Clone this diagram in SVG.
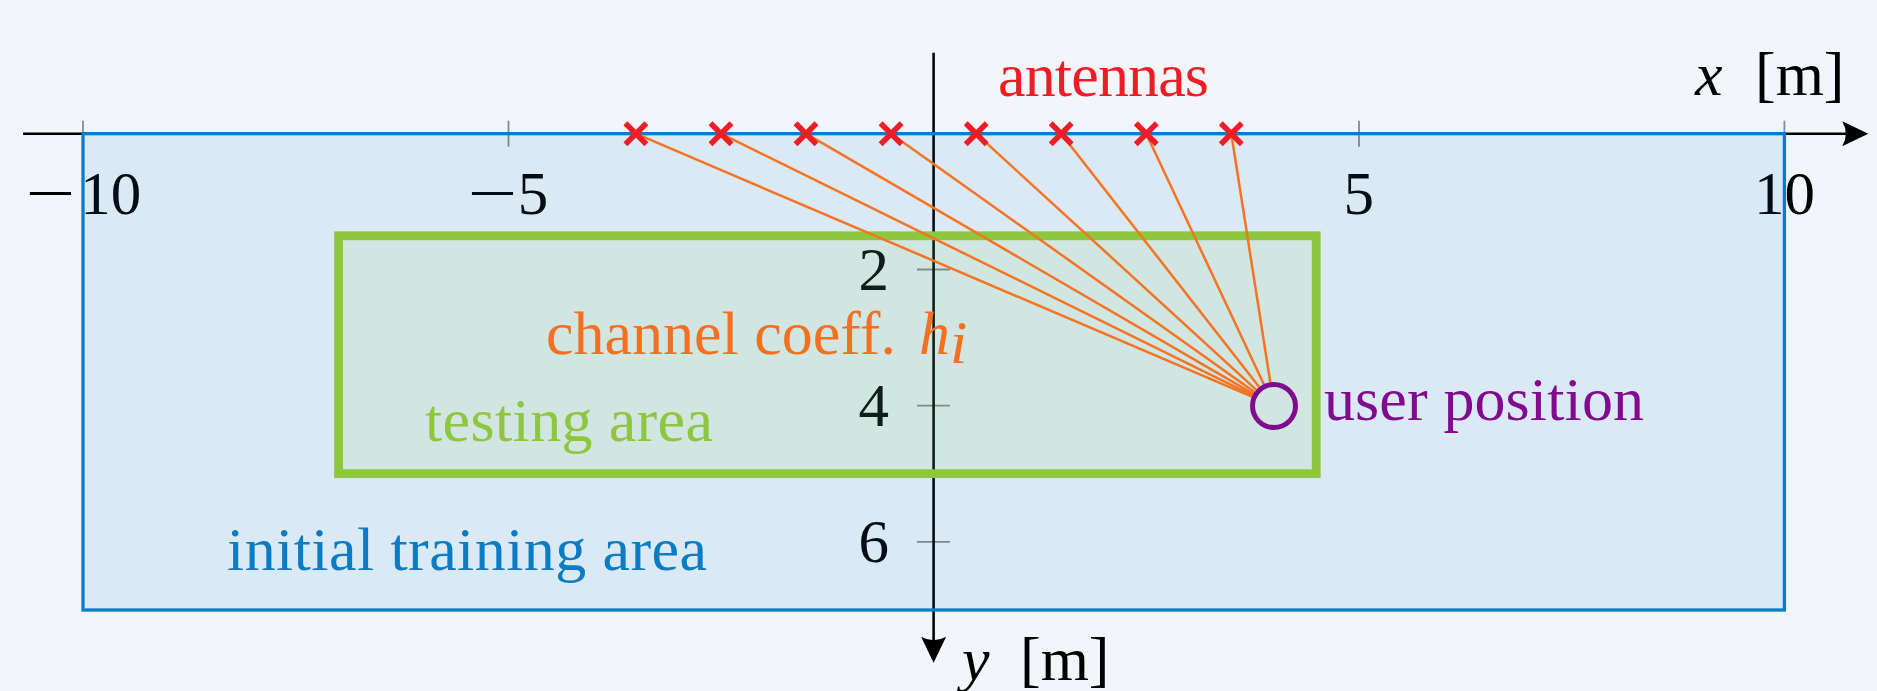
<svg xmlns="http://www.w3.org/2000/svg" width="1877" height="691" viewBox="0 0 1877 691">
  <style>
    .lbl { font-family: "Liberation Serif", "Times New Roman", serif; font-size: 62px; }
    .tick-lbl { font-family: "Liberation Serif", "Times New Roman", serif; font-size: 61px; fill: #000; }
    .it { font-style: italic; }
    .axis { stroke: #000; stroke-width: 2.6; fill: none; }
    .tick { stroke: #8a8a8a; stroke-width: 1.8; }
    .ray { stroke: #F47423; stroke-width: 2.5; fill: none; }
    .ant { stroke: #EE1D25; stroke-width: 5.5; fill: none; }
  </style>
  <defs>
    <marker id="arr" markerUnits="userSpaceOnUse" orient="auto" markerWidth="30" markerHeight="26" viewBox="0 0 30 26" refX="22" refY="12.5" overflow="visible">
      <path d="M26,12.5 L0,0 Q7,12.5 0,25 Z" fill="#000"/>
    </marker>
    <g id="cross">
      <path d="M-10.5,-10.5 L10.5,10.5 M-10.5,10.5 L10.5,-10.5"/>
    </g>
  </defs>

  <rect x="0" y="0" width="1877" height="691" fill="#F2F5FA"/>

  <g id="axes">
    <line class="tick" x1="83" y1="120.7" x2="83" y2="146.7"/>
    <line class="tick" x1="508.5" y1="120.7" x2="508.5" y2="146.7"/>
    <line class="tick" x1="1359" y1="120.7" x2="1359" y2="146.7"/>
    <line class="tick" x1="1784.4" y1="120.7" x2="1784.4" y2="146.7"/>
    <line class="tick" x1="917" y1="269.5" x2="950" y2="269.5"/>
    <line class="tick" x1="917" y1="405.7" x2="950" y2="405.7"/>
    <line class="tick" x1="917" y1="541.8" x2="950" y2="541.8"/>
    <path class="axis" d="M23,133.7 L1864.3,133.7" marker-end="url(#arr)"/>
    <path class="axis" d="M933.6,52.7 L933.6,658.7" marker-end="url(#arr)"/>
    <text class="tick-lbl" transform="translate(50.5,214) scale(1.45,1)" x="0" y="0" text-anchor="middle">−</text>
    <text class="tick-lbl" x="110.8" y="214" text-anchor="middle">10</text>
    <text class="tick-lbl" transform="translate(492.5,214) scale(1.45,1)" x="0" y="0" text-anchor="middle">−</text>
    <text class="tick-lbl" x="533" y="214" text-anchor="middle">5</text>
    <text class="tick-lbl" x="1358.7" y="214" text-anchor="middle">5</text>
    <text class="tick-lbl" x="1784.5" y="214" text-anchor="middle">10</text>
    <text class="tick-lbl" x="889" y="289.5" text-anchor="end">2</text>
    <text class="tick-lbl" x="889" y="425.7" text-anchor="end">4</text>
    <text class="tick-lbl" x="889" y="562" text-anchor="end">6</text>
    <text class="lbl" y="95" fill="#000"><tspan class="it" x="1695">x</tspan><tspan x="1755">[m]</tspan></text>
    <text class="lbl" y="680" fill="#000"><tspan class="it" x="962">y</tspan><tspan x="1020">[m]</tspan></text>
  </g>

  <g id="training-area">
    <rect x="83" y="133.7" width="1701.4" height="476.3" fill="#0A7DC7" fill-opacity="0.1" stroke="#0A7DC7" stroke-width="3.3"/>
    <text class="lbl" x="227" y="570" fill="#0A7CC4" textLength="480">initial training area</text>
  </g>

  <g id="testing-area">
    <rect x="338.6" y="235.8" width="977.6" height="237.9" fill="#8DC63F" fill-opacity="0.1" stroke="#8DC63F" stroke-width="8.8"/>
    <text class="lbl" x="425" y="441" fill="#8DC63F" textLength="288">testing area</text>
  </g>

  <g id="channel-label">
    <text class="lbl" x="546" y="354" fill="#F37021" textLength="350">channel coeff.</text>
    <text class="lbl it" x="919" y="354" fill="#F37021">h</text>
    <text class="lbl it" x="950" y="363" fill="#F37021" font-size="40">i</text>
  </g>

  <g id="connectors">
    <line class="ray" x1="635.9" y1="133.7" x2="1251.9" y2="396.6"/>
    <line class="ray" x1="721.0" y1="133.7" x2="1252.5" y2="395.4"/>
    <line class="ray" x1="806.0" y1="133.7" x2="1253.3" y2="393.9"/>
    <line class="ray" x1="891.1" y1="133.7" x2="1254.4" y2="392.1"/>
    <line class="ray" x1="976.2" y1="133.7" x2="1256.3" y2="389.8"/>
    <line class="ray" x1="1061.2" y1="133.7" x2="1259.2" y2="387.1"/>
    <line class="ray" x1="1146.3" y1="133.7" x2="1263.8" y2="384.3"/>
    <line class="ray" x1="1231.3" y1="133.7" x2="1270.3" y2="382.3"/>
  </g>

  <g id="antennas">
    <use href="#cross" class="ant" x="635.9" y="133.7"/>
    <use href="#cross" class="ant" x="721.0" y="133.7"/>
    <use href="#cross" class="ant" x="806.0" y="133.7"/>
    <use href="#cross" class="ant" x="891.1" y="133.7"/>
    <use href="#cross" class="ant" x="976.2" y="133.7"/>
    <use href="#cross" class="ant" x="1061.2" y="133.7"/>
    <use href="#cross" class="ant" x="1146.3" y="133.7"/>
    <use href="#cross" class="ant" x="1231.3" y="133.7"/>
    <text class="lbl" x="998" y="95.7" fill="#EE1D25" textLength="211">antennas</text>
  </g>

  <g id="user">
    <circle cx="1274" cy="406" r="21.5" fill="none" stroke="#800B8E" stroke-width="5"/>
    <text class="lbl" x="1324" y="420" fill="#800B8E" textLength="320">user position</text>
  </g>
</svg>
